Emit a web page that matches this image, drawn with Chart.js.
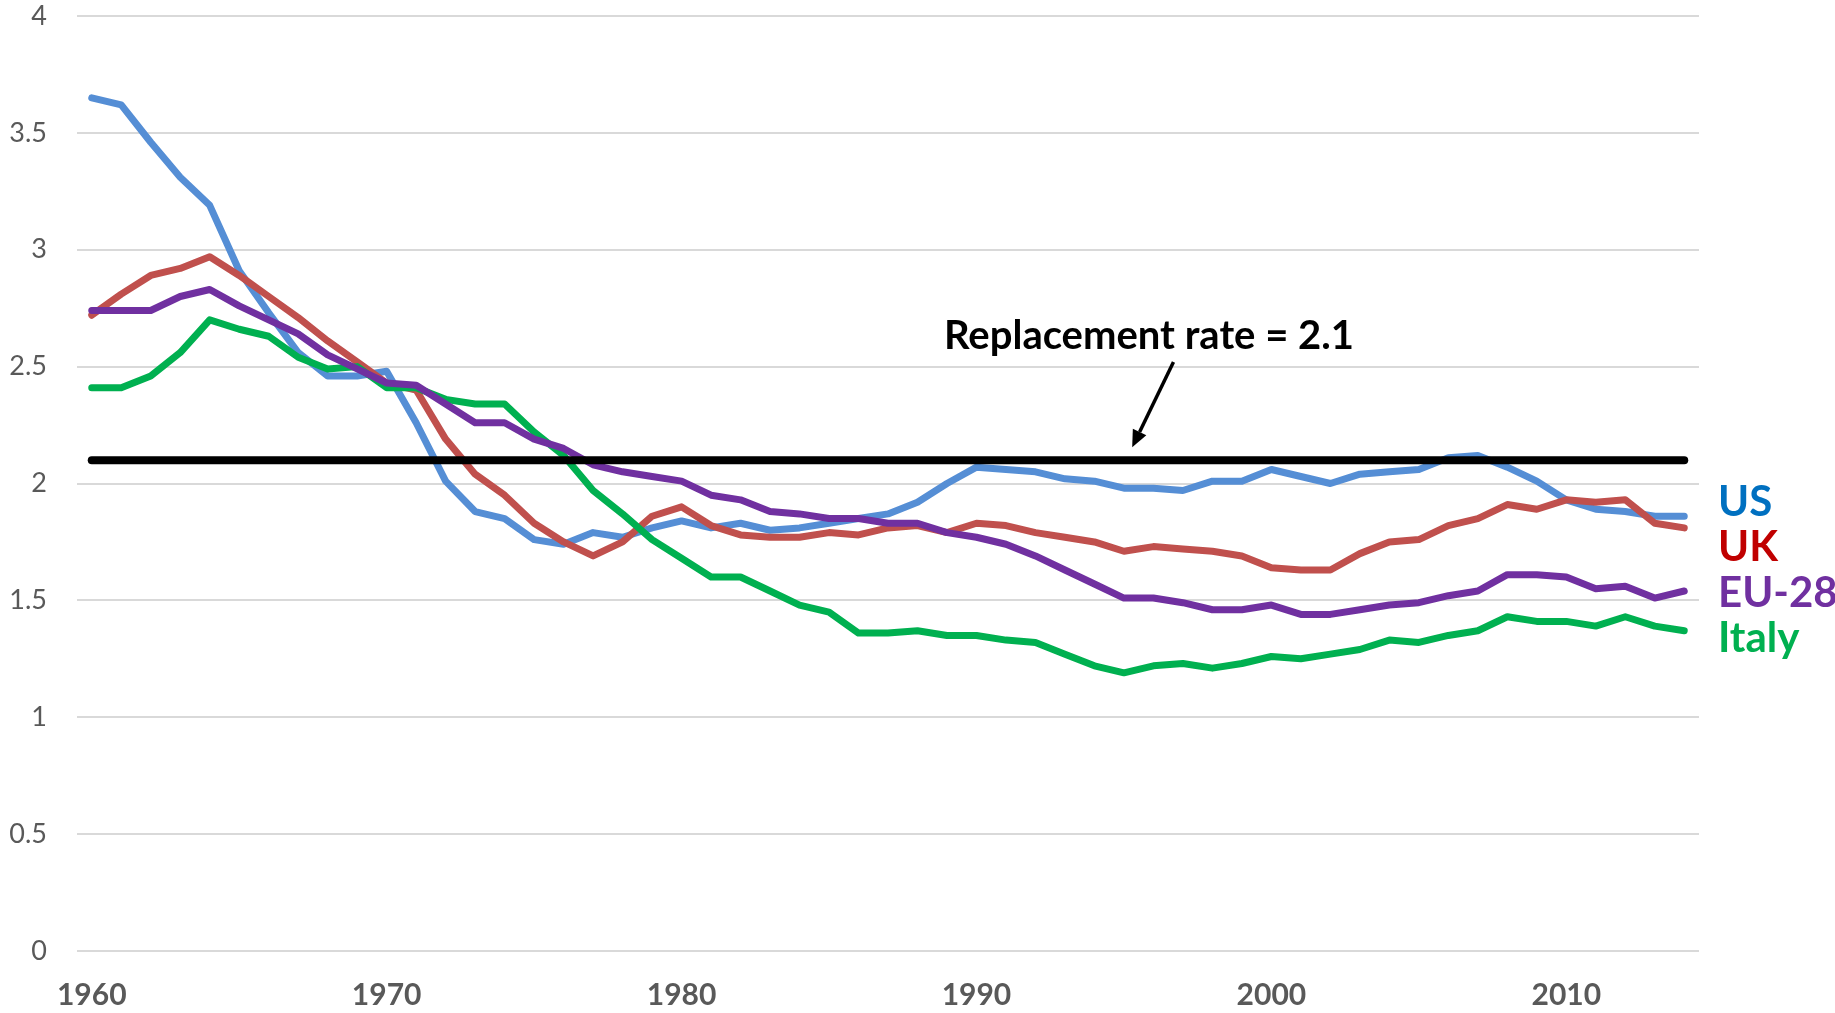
<!DOCTYPE html>
<html>
<head>
<meta charset="utf-8">
<script src="https://cdn.jsdelivr.net/npm/chart.js@4/dist/chart.umd.min.js"></script>
<style>
  html, body { margin: 0; padding: 0; background: #ffffff; }
  #wrap { position: relative; width: 1835px; height: 1013px; }
</style>
</head>
<body>
<div id="wrap"><canvas id="c"></canvas></div>
<script>
const years = [];
for (let y = 1960; y <= 2014; y++) years.push(String(y));

const usValues = [
  3.65, 3.62, 3.46, 3.31, 3.19, 2.91, 2.73, 2.56, 2.46, 2.46,
  2.48, 2.26, 2.01, 1.88, 1.85, 1.76, 1.74, 1.79, 1.77, 1.81,
  1.84, 1.81, 1.83, 1.80, 1.81, 1.83, 1.85, 1.87, 1.92, 2.00,
  2.07, 2.06, 2.05, 2.02, 2.01, 1.98, 1.98, 1.97, 2.01, 2.01,
  2.06, 2.03, 2.00, 2.04, 2.05, 2.06, 2.11, 2.12, 2.07, 2.01,
  1.93, 1.89, 1.88, 1.86, 1.86
];
const ukValues = [
  2.72, 2.81, 2.89, 2.92, 2.97, 2.89, 2.80, 2.71, 2.61, 2.52,
  2.43, 2.40, 2.19, 2.04, 1.95, 1.83, 1.75, 1.69, 1.75, 1.86,
  1.90, 1.82, 1.78, 1.77, 1.77, 1.79, 1.78, 1.81, 1.82, 1.79,
  1.83, 1.82, 1.79, 1.77, 1.75, 1.71, 1.73, 1.72, 1.71, 1.69,
  1.64, 1.63, 1.63, 1.70, 1.75, 1.76, 1.82, 1.85, 1.91, 1.89,
  1.93, 1.92, 1.93, 1.83, 1.81
];
const eu28Values = [
  2.74, 2.74, 2.74, 2.80, 2.83, 2.76, 2.70, 2.64, 2.55, 2.49,
  2.43, 2.42, 2.34, 2.26, 2.26, 2.19, 2.15, 2.08, 2.05, 2.03,
  2.01, 1.95, 1.93, 1.88, 1.87, 1.85, 1.85, 1.83, 1.83, 1.79,
  1.77, 1.74, 1.69, 1.63, 1.57, 1.51, 1.51, 1.49, 1.46, 1.46,
  1.48, 1.44, 1.44, 1.46, 1.48, 1.49, 1.52, 1.54, 1.61, 1.61,
  1.60, 1.55, 1.56, 1.51, 1.54
];
const italyValues = [
  2.41, 2.41, 2.46, 2.56, 2.70, 2.66, 2.63, 2.54, 2.49, 2.50,
  2.41, 2.41, 2.36, 2.34, 2.34, 2.22, 2.12, 1.97, 1.87, 1.76,
  1.68, 1.60, 1.60, 1.54, 1.48, 1.45, 1.36, 1.36, 1.37, 1.35,
  1.35, 1.33, 1.32, 1.27, 1.22, 1.19, 1.22, 1.23, 1.21, 1.23,
  1.26, 1.25, 1.27, 1.29, 1.33, 1.32, 1.35, 1.37, 1.43, 1.41,
  1.41, 1.39, 1.43, 1.39, 1.37
];
const replacementRate = 2.1;
const replacementValues = years.map(() => replacementRate);

const yTicks = [0, 0.5, 1, 1.5, 2, 2.5, 3, 3.5, 4];
const xTickYears = ['1960', '1970', '1980', '1990', '2000', '2010'];

const seriesLabels = ['US', 'UK', 'EU-28', 'Italy'];
const seriesLabelColors = ['#0070C0', '#C00000', '#7030A0', '#00B050'];
const annotationText = 'Replacement rate = 2.1';

const FONT = 'Lato, "Open Sans", "DejaVu Sans", sans-serif';

const endLabelPlugin = {
  id: 'endLabels',
  afterDatasetsDraw(chart) {
    const ctx = chart.ctx;
    const area = chart.chartArea;
    const ys = chart.scales.y;
    const xs = chart.scales.x;
    // right-side series labels
    const labelLevels = [1.926, 1.734, 1.537, 1.345];
    ctx.save();
    ctx.font = 'bold 42px ' + FONT;
    ctx.textAlign = 'left';
    ctx.textBaseline = 'middle';
    seriesLabels.forEach((t, i) => {
      ctx.fillStyle = seriesLabelColors[i];
      ctx.fillText(t, area.right + 19, ys.getPixelForValue(labelLevels[i]) + 2);
    });
    // annotation text
    ctx.fillStyle = '#000000';
    ctx.font = 'bold 40px ' + FONT;
    ctx.textAlign = 'center';
    ctx.fillText(annotationText, xs.getPixelForValue(35.85), ys.getPixelForValue(2.64) + 2);
    // arrow
    const x1 = xs.getPixelForValue(36.68), y1 = ys.getPixelForValue(2.52);
    const x2 = xs.getPixelForValue(35.28), y2 = ys.getPixelForValue(2.155);
    const ang = Math.atan2(y2 - y1, x2 - x1);
    const headLen = 17, headHalf = 7.5;
    const bx = x2 - headLen * Math.cos(ang), by = y2 - headLen * Math.sin(ang);
    ctx.strokeStyle = '#000000';
    ctx.lineWidth = 3.5;
    ctx.beginPath();
    ctx.moveTo(x1, y1);
    ctx.lineTo(bx, by);
    ctx.stroke();
    ctx.beginPath();
    ctx.moveTo(x2, y2);
    ctx.lineTo(bx + headHalf * Math.sin(ang), by - headHalf * Math.cos(ang));
    ctx.lineTo(bx - headHalf * Math.sin(ang), by + headHalf * Math.cos(ang));
    ctx.closePath();
    ctx.fill();
    ctx.restore();
  }
};

function lineDs(label, data, color, order, width) {
  return {
    label, data,
    borderColor: color,
    backgroundColor: color,
    borderWidth: width,
    pointRadius: 0,
    pointHoverRadius: 0,
    tension: 0,
    fill: false,
    borderCapStyle: 'round',
    borderJoinStyle: 'round',
    order
  };
}

new Chart(document.getElementById('c'), {
  type: 'line',
  data: {
    labels: years,
    datasets: [
      lineDs('Replacement rate', replacementValues, '#000000', 0, 8),
      lineDs('EU-28', eu28Values, '#7030A0', 1, 7),
      lineDs('Italy', italyValues, '#00B050', 2, 7),
      lineDs('UK', ukValues, '#C0504D', 3, 7),
      lineDs('US', usValues, '#558ED5', 4, 7)
    ]
  },
  options: {
    responsive: true,
    maintainAspectRatio: false,
    animation: false,
    layout: { padding: { top: 16, right: 136, bottom: 0, left: 0 } },
    plugins: {
      legend: { display: false },
      tooltip: { enabled: false }
    },
    scales: {
      x: {
        type: 'category',
        offset: true,
        grid: { display: false, drawTicks: false },
        border: { display: false },
        afterFit(s) { s.height = 62; s.paddingLeft = 0; s.paddingRight = 0; },
        ticks: {
          autoSkip: false,
          maxRotation: 0,
          minRotation: 0,
          padding: 26,
          color: '#595959',
          font: { family: FONT, size: 30, weight: 'bold' },
          callback(value) {
            const lab = this.getLabelForValue(value);
            return xTickYears.includes(lab) ? lab : null;
          }
        }
      },
      y: {
        min: 0,
        max: 4,
        afterFit(s) { s.width = 77; s.paddingTop = 0; s.paddingBottom = 0; },
        afterBuildTicks(s) { s.ticks = yTicks.map(v => ({ value: v })); },
        grid: { color: '#d9d9d9', lineWidth: 2, drawTicks: false },
        border: { display: false },
        ticks: {
          padding: 30,
          color: '#595959',
          font: { family: FONT, size: 27 },
          callback(v) { return String(v); }
        }
      }
    }
  },
  plugins: [endLabelPlugin]
});
</script>
</body>
</html>
